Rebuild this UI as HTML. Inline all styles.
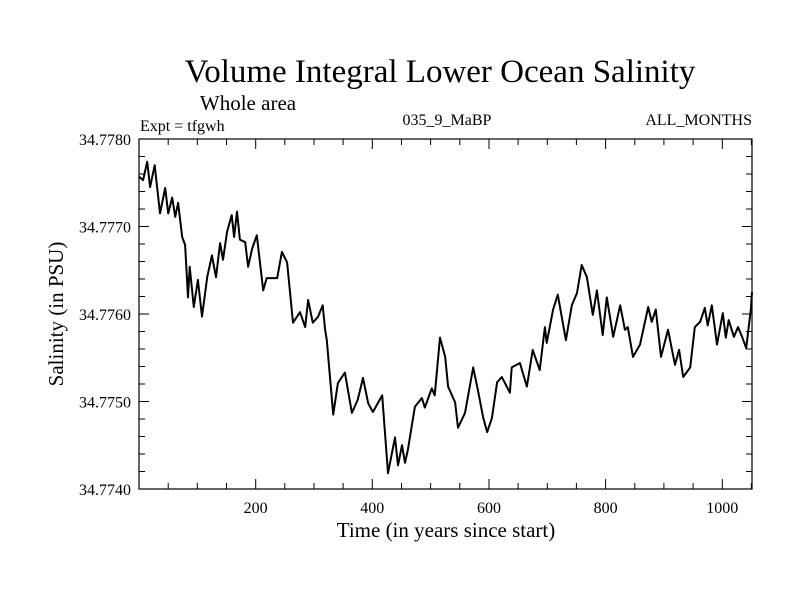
<!DOCTYPE html>
<html><head><meta charset="utf-8"><style>
body{margin:0;background:#fff;width:800px;height:600px;overflow:hidden}
svg text{font-family:"Liberation Serif",serif;fill:#000}
</style></head><body>
<svg id="chart" width="800" height="600">
<text x="440" y="82" font-size="33" text-anchor="middle">Volume Integral Lower Ocean Salinity</text>
<text x="248" y="110" font-size="21" text-anchor="middle">Whole area</text>
<text x="140" y="131" font-size="16">Expt = tfgwh</text>
<text x="447" y="125" font-size="16" text-anchor="middle">035_9_MaBP</text>
<text x="752" y="125" font-size="16" text-anchor="end">ALL_MONTHS</text>
<text x="446" y="537" font-size="21" text-anchor="middle">Time (in years since start)</text>
<text transform="translate(63,314) rotate(-90)" font-size="21" text-anchor="middle">Salinity (in PSU)</text>
<g id="axes"></g>
<rect x="139" y="139" width="613" height="350" fill="none" stroke="#000" stroke-width="1.2"/>
</svg>
<script>
const years=[0,7,14,19,27,36,45,50,57,62,67,74,79,84,87,94,101,108,117,125,132,139,144,151,159,163,168,173,182,187,194,202,213,219,237,245,254,264,276,285,290,298,307,315,319,322,333,341,353,365,375,384,393,401,417,427,439,444,451,456,461,473,485,490,502,507,516,525,530,542,547,559,573,581,590,597,605,614,622,636,639,653,665,675,687,696,699,710,718,732,742,751,759,768,778,785,795,802,813,825,833,838,847,859,873,879,886,895,907,919,926,933,945,953,962,970,975,982,991,1001,1006,1011,1020,1027,1034,1041,1049,1051];
const salinity=[34.77757,34.77753,34.77774,34.77745,34.77770,34.77715,34.77744,34.77715,34.77733,34.77711,34.77727,34.77688,34.77679,34.77619,34.77654,34.77608,34.77639,34.77597,34.77642,34.77667,34.77642,34.77681,34.77662,34.77694,34.77713,34.77688,34.77717,34.77685,34.77682,34.77654,34.77675,34.77690,34.77627,34.77641,34.77641,34.77671,34.77659,34.77590,34.77602,34.77585,34.77616,34.77590,34.77597,34.77610,34.77582,34.77570,34.77485,34.77521,34.77533,34.77487,34.77502,34.77527,34.77498,34.77488,34.77507,34.77418,34.77459,34.77427,34.77450,34.77430,34.77445,34.77494,34.77504,34.77493,34.77515,34.77507,34.77573,34.77551,34.77517,34.77499,34.77470,34.77487,34.77539,34.77513,34.77482,34.77465,34.77481,34.77522,34.77528,34.77510,34.77539,34.77544,34.77517,34.77559,34.77536,34.77585,34.77567,34.77605,34.77622,34.77570,34.77610,34.77624,34.77656,34.77642,34.77599,34.77627,34.77576,34.77619,34.77574,34.77610,34.77582,34.77585,34.77551,34.77565,34.77608,34.77591,34.77605,34.77551,34.77582,34.77542,34.77559,34.77528,34.77539,34.77585,34.77591,34.77607,34.77587,34.77610,34.77565,34.77601,34.77573,34.77593,34.77574,34.77585,34.77574,34.77561,34.77605,34.77625];
const xTicks=[200,400,600,800,1000];
const yTicks=[34.7740,34.7750,34.7760,34.7770,34.7780];
const X0=139,X1=752,Y0=489,Y1=139,XMIN=0,XMAX=1051,YMIN=34.774,YMAX=34.778;
function sx(v){return X0+(v-XMIN)/(XMAX-XMIN)*(X1-X0);}
function sy(v){return Y0-(v-YMIN)/(YMAX-YMIN)*(Y0-Y1);}
const NS="http://www.w3.org/2000/svg";
const svg=document.getElementById('chart');
const g=document.getElementById('axes');
function mk(tag,attrs){const e=document.createElementNS(NS,tag);for(const k in attrs)e.setAttribute(k,attrs[k]);return e;}
let tp="";
for(let v=50;v<XMAX;v+=50){const x=sx(v).toFixed(1);const L=(v%200===0)?10:6;tp+=`M${x} ${Y0}V${Y0-L}M${x} ${Y1}V${Y1+L}`;}
for(let i=0;i<=20;i++){const v=YMIN+i*0.0002;const y=sy(v).toFixed(1);const L=(i%5===0)?10:6;tp+=`M${X0} ${y}H${X0+L}M${X1} ${y}H${X1-L}`;}
const ticks=mk('path',{d:tp,stroke:'#000','stroke-width':1,fill:'none'});


g.appendChild(ticks);
xTicks.forEach(v=>{const t=mk('text',{x:sx(v),y:513,'font-size':16,'text-anchor':'middle'});t.textContent=v;


g.appendChild(t);});
yTicks.forEach(v=>{const t=mk('text',{x:131,y:sy(v)+6,'font-size':16,'text-anchor':'end'});t.textContent=v.toFixed(4);


g.appendChild(t);});
let d="";years.forEach((yr,i)=>{d+=(i?"L":"M")+sx(yr).toFixed(1)+" "+sy(salinity[i]).toFixed(1);});
const line=mk('path',{d:d,stroke:'#000','stroke-width':2,fill:'none','stroke-linejoin':'round'});


g.appendChild(line);
</script>
</body></html>
